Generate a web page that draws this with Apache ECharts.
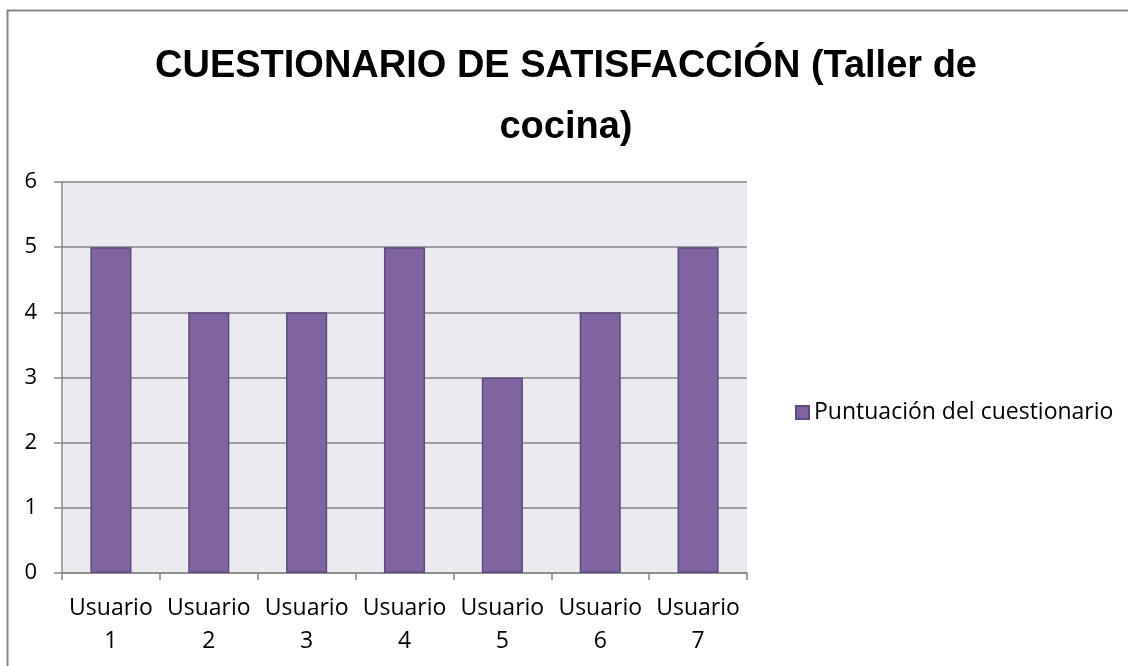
<!DOCTYPE html>
<html>
<head>
<meta charset="utf-8">
<script src="https://cdn.jsdelivr.net/npm/echarts@6/dist/echarts.min.js"></script>
<style>
  html, body { margin: 0; padding: 0; background: #fff; }
  #chart { width: 1128px; height: 666px; }
</style>
</head>
<body>
<div id="chart"></div>
<script>
var users = ['Usuario\n1', 'Usuario\n2', 'Usuario\n3', 'Usuario\n4', 'Usuario\n5', 'Usuario\n6', 'Usuario\n7'];
var scores = [5, 4, 4, 5, 3, 4, 5];
var seriesName = 'Puntuación del cuestionario';

var myChart = echarts.init(document.getElementById('chart'), null, { renderer: 'canvas' });
var font = 'Open Sans';
var gray = '#868686';

var option = {
  backgroundColor: '#fff',
  animation: false,
  title: {
    text: 'CUESTIONARIO DE SATISFACCIÓN (Taller de\ncocina)',
    left: 561,
    textAlign: 'center',
    top: 31,
    textStyle: { fontFamily: 'Liberation Sans', fontWeight: 'bold', fontSize: 38, lineHeight: 61, color: '#000' }
  },
  legend: {
    left: 790,
    top: 396,
    icon: 'rect',
    itemWidth: 13,
    itemHeight: 13,
    itemGap: 8,
    textStyle: { fontFamily: font, fontSize: 23, color: '#000' },
    data: [seriesName]
  },
  graphic: [{
    type: 'rect',
    shape: { x: 7.5, y: 10.5, width: 1200, height: 800 },
    style: { fill: 'none', stroke: gray, lineWidth: 2 },
    silent: true
  }],
  grid: {
    left: 62, right: 381, top: 182, bottom: 93,
    show: true, backgroundColor: '#ECEAF1', borderWidth: 0
  },
  xAxis: {
    type: 'category',
    data: users,
    axisLine: { lineStyle: { color: gray, width: 1.5 } },
    axisTick: { show: true, length: 7, lineStyle: { color: gray, width: 1.5 } },
    axisLabel: { fontFamily: font, fontSize: 23, color: '#000', lineHeight: 33, margin: 19, interval: 0 }
  },
  yAxis: {
    type: 'value',
    min: 0, max: 6, interval: 1,
    axisLine: { show: true, lineStyle: { color: gray, width: 1.5 } },
    axisTick: { show: true, length: 8, lineStyle: { color: gray, width: 1.5 } },
    axisLabel: { fontFamily: font, fontSize: 22, color: '#000', margin: 25 },
    splitLine: { lineStyle: { color: gray, width: 1.5 } }
  },
  series: [{
    name: seriesName,
    type: 'bar',
    data: scores,
    barWidth: '42%',
    itemStyle: { color: '#8064A2', borderColor: '#5E4A7C', borderWidth: 1.5 }
  }]
};

myChart.setOption(option);
window.addEventListener('resize', myChart.resize);
</script>
</body>
</html>
